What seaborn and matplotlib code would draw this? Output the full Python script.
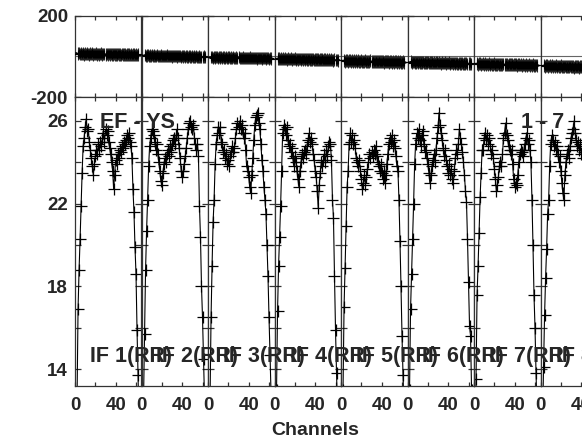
import pandas as pd
import matplotlib
matplotlib.use("Agg")
import matplotlib.pyplot as plt
import seaborn as sns

# labels
if_labels = ["IF 1(RR)", "IF 2(RR)", "IF 3(RR)", "IF 4(RR)",
             "IF 5(RR)", "IF 6(RR)", "IF 7(RR)", "IF 8(RR)"]
baseline_name = "EF - YS"
baseline_nums = "1 - 7"
x_title = "Channels"

# amplitude per channel (channel 1..64)
amp_if1 = [9.0, 12.5, 16.9, 18.8, 20.3, 21.9, 23.5, 24.8,
           25.2, 25.7, 26.1, 25.5, 25.6, 25.0, 24.6, 24.2,
           23.8, 23.4, 23.9, 24.3, 24.6, 24.4, 24.9, 24.6,
           25.0, 24.8, 25.2, 25.4, 25.0, 25.6, 25.3, 25.5,
           25.0, 24.7, 24.4, 24.0, 23.6, 22.7, 23.4, 24.1,
           23.9, 24.4, 24.2, 24.6, 24.5, 24.8, 24.7, 25.0,
           24.9, 25.1, 25.3, 25.2, 25.4, 25.0, 24.8, 24.2,
           22.7, 21.6, 19.9, 18.6, 15.9, 13.7, 11.0, 9.0]
amp_if2 = [10.0, 12.5, 15.7, 18.8, 20.7, 22.2, 23.8, 24.8,
           25.2, 25.6, 25.5, 25.3, 25.0, 24.6, 24.9, 24.4,
           24.0, 23.6, 23.1, 22.9, 23.5, 23.9, 24.2, 24.0,
           24.4, 24.6, 24.3, 24.8, 24.5, 24.9, 25.1, 25.2,
           24.9, 25.3, 25.6, 25.2, 24.7, 24.2, 23.6, 23.3,
           23.6, 23.9, 24.3, 24.7, 25.2, 25.6, 25.9, 26.0,
           25.7, 25.6, 25.8, 25.2, 24.9, 24.6, 24.9, 24.3,
           21.9, 20.4, 18.0, 16.5, 14.5, 12.5, 10.5, 9.0]
amp_if3 = [9.5, 12.5, 16.5, 19.0, 21.1, 22.2, 23.9, 24.9,
           25.3, 25.7, 25.4, 25.7, 25.0, 24.9, 24.5, 24.6,
           24.2, 24.4, 23.9, 24.1, 23.8, 24.3, 24.5, 24.8,
           24.5, 24.7, 25.2, 25.6, 25.9, 25.7, 26.0, 25.6,
           25.8, 25.4, 25.2, 25.4, 24.6, 23.8, 23.6, 23.3,
           22.8, 22.5, 23.4, 24.2, 25.1, 25.8, 26.2, 26.3,
           26.4, 25.9, 25.6, 24.9, 24.1, 23.6, 22.8, 22.2,
           21.5, 20.0, 18.5, 16.5, 14.7, 12.8, 11.0, 9.0]
amp_if4 = [9.5, 13.0, 16.8, 19.0, 20.4, 21.9, 23.6, 25.4,
           25.8, 25.6, 25.3, 25.7, 25.1, 24.8, 24.9, 24.5,
           24.7, 24.2, 23.8, 24.3, 24.0, 23.6, 23.2, 22.8,
           23.6, 24.0, 24.4, 24.2, 24.5, 24.6, 24.4, 24.8,
           25.1, 25.4, 25.0, 25.2, 24.9, 24.4, 24.1, 23.6,
           23.3, 22.6, 21.8, 22.9, 23.5, 24.0, 23.8, 24.1,
           24.4, 24.0, 24.6, 24.3, 24.8, 25.0, 24.9, 24.1,
           22.2, 21.3, 18.5, 15.9, 13.8, 12.0, 10.5, 9.0]
amp_if5 = [9.5, 13.0, 17.0, 18.9, 20.9, 22.8, 23.6, 24.9,
           25.4, 25.0, 25.3, 24.9, 25.1, 24.7, 24.2, 24.0,
           23.8, 24.1, 23.6, 23.2, 22.7, 23.0, 23.4, 22.9,
           23.3, 23.7, 24.0, 24.4, 24.2, 24.5, 24.3, 24.6,
           24.4, 24.8, 24.3, 24.0, 23.8, 23.6, 23.9, 23.5,
           23.2, 23.6, 23.0, 23.4, 23.9, 24.4, 24.9, 25.2,
           25.0, 25.3, 24.8, 25.1, 24.7, 24.3, 23.8, 23.6,
           22.2, 20.2, 18.0, 15.6, 13.7, 12.0, 10.5, 9.0]
amp_if6 = [9.5, 13.0, 16.9, 18.6, 20.3, 22.0, 23.9, 24.9,
           25.4, 25.2, 25.6, 25.1, 24.8, 25.3, 25.5, 24.9,
           24.5, 24.6, 24.2, 23.9, 23.5, 23.0, 23.4, 23.8,
           24.1, 24.4, 24.0, 24.6, 25.2, 25.7, 26.4, 25.8,
           25.4, 25.1, 24.7, 24.3, 24.6, 24.1, 23.8, 23.5,
           23.9, 23.4, 23.7, 23.2, 23.0, 23.6, 24.2, 24.6,
           24.4, 24.9, 25.6, 25.2, 24.9, 24.5, 24.0, 23.4,
           22.6, 22.1, 20.3, 18.2, 16.1, 15.6, 13.0, 10.0]
amp_if7 = [9.5, 13.5, 17.6, 19.0, 20.6, 22.3, 23.5, 24.6,
           24.6, 25.2, 25.4, 25.1, 25.3, 24.9, 25.2, 24.8,
           24.4, 24.6, 24.2, 23.7, 23.2, 22.6, 22.9, 23.3,
           23.8, 24.0, 23.8, 24.4, 25.2, 25.4, 25.9, 25.3,
           25.1, 24.8, 24.6, 24.4, 24.6, 23.9, 23.2, 22.8,
           23.0, 22.9, 23.4, 24.0, 24.4, 24.6, 24.5, 24.3,
           24.6, 24.9, 25.2, 25.4, 24.9, 25.1, 24.6, 24.0,
           22.2, 20.0, 17.6, 16.0, 13.8, 12.0, 10.5, 9.0]
# IF 8 is cut by the right edge, only the visible channels
amp_if8 = [9.5, 11.5, 14.1, 16.6, 18.4, 19.8, 21.5, 22.2,
           23.8, 24.9, 25.3, 25.1, 24.8, 25.0, 24.6, 24.8,
           24.4, 24.0, 24.3, 23.6, 23.0, 22.5, 22.2, 23.4,
           24.0, 24.4, 24.6, 24.2, 24.8, 25.2, 25.4, 25.6,
           26.0, 25.4, 25.1, 24.8, 25.0, 24.6, 24.9, 24.4,
           24.7, 24.2, 24.5]

# phase in degrees per channel
phase_if1 = [18, 15, 14, 17, 12, 15, 13, 16,
             11, 14, 12, 15, 13, 10, 14, 12,
             15, 11, 13, 12, 14, 10, 13, 11,
             12, 14, 10, 12, 13, 9, 12, 11,
             13, 10, 12, 9, 11, 13, 10, 11,
             9, 12, 10, 11, 8, 12, 10, 9,
             11, 8, 10, 9, 11, 7, 10, 8,
             9, 11, 7, 9, 8, 10, 6, 9]
phase_if2 = [6, 4, 7, 3, 5, 6, 2, 5,
             4, 6, 3, 5, 2, 4, 6, 3,
             4, 2, 5, 3, 1, 4, 2, 3,
             5, 1, 3, 2, 4, 0, 3, 2,
             1, 3, 0, 2, 1, 3, -1, 2,
             0, 1, -1, 2, 0, -2, 1, 0,
             -1, 1, -2, 0, -1, 1, -3, -1,
             0, -2, -1, -3, 0, -2, -1, -3]
phase_if3 = [-3, -5, -2, -4, -6, -3, -5, -4,
             -2, -6, -4, -5, -3, -7, -4, -5,
             -6, -4, -7, -5, -3, -6, -5, -7,
             -4, -6, -8, -5, -6, -4, -7, -6,
             -8, -5, -7, -6, -9, -6, -7, -8,
             -5, -8, -7, -9, -6, -8, -7, -10,
             -8, -6, -9, -8, -10, -7, -9, -8,
             -10, -8, -9, -11, -8, -10, -9, -11]
phase_if4 = [-10, -12, -9, -11, -13, -10, -12, -11,
             -13, -10, -12, -14, -11, -13, -12, -10,
             -14, -12, -13, -11, -15, -12, -14, -13,
             -12, -15, -13, -14, -12, -16, -13, -15,
             -14, -13, -16, -14, -15, -13, -17, -14,
             -15, -16, -14, -17, -15, -16, -14, -17,
             -16, -15, -18, -16, -17, -15, -18, -16,
             -17, -19, -16, -18, -17, -19, -16, -18]
phase_if5 = [-20, -22, -19, -23, -21, -20, -24, -22,
             -21, -23, -20, -24, -22, -23, -21, -25,
             -22, -24, -23, -21, -25, -23, -24, -22,
             -26, -23, -25, -24, -22, -26, -24, -25,
             -27, -24, -26, -25, -23, -27, -25, -26,
             -24, -28, -26, -25, -27, -26, -28, -25,
             -27, -29, -26, -28, -27, -25, -29, -27,
             -28, -26, -30, -28, -27, -29, -28, -30]
phase_if6 = [-27, -29, -26, -30, -28, -27, -31, -29,
             -28, -30, -27, -31, -29, -30, -28, -32,
             -29, -31, -30, -28, -32, -30, -31, -29,
             -33, -30, -32, -31, -29, -33, -31, -32,
             -34, -31, -33, -32, -30, -34, -32, -33,
             -31, -35, -33, -32, -34, -33, -35, -32,
             -34, -36, -33, -35, -34, -32, -36, -34,
             -35, -33, -37, -35, -34, -36, -35, -37]
phase_if7 = [-35, -37, -34, -38, -36, -35, -39, -37,
             -36, -38, -35, -39, -37, -38, -36, -40,
             -37, -39, -38, -36, -40, -38, -39, -37,
             -41, -38, -40, -39, -37, -41, -39, -40,
             -42, -39, -41, -40, -38, -42, -40, -41,
             -39, -43, -41, -40, -42, -41, -43, -40,
             -42, -44, -41, -43, -42, -40, -44, -42,
             -43, -41, -45, -43, -42, -44, -43, -45]
phase_if8 = [-45, -47, -44, -48, -46, -45, -49, -47,
             -46, -48, -45, -49, -47, -48, -46, -50,
             -47, -49, -48, -46, -50, -48, -49, -47,
             -51, -48, -50, -49, -47, -51, -49, -50,
             -52, -49, -51, -50, -48, -52, -50, -51,
             -49, -53, -51]
phase_err = [31, 30, 30, 31, 32, 31, 32, 32]

amp_ticks, amp_minor = [14, 18, 22, 26], [16, 20, 24]
phase_ticks = [-200, 200]
chan_ticks, chan_minor = [0, 40], [20, 60]

amps = [amp_if1, amp_if2, amp_if3, amp_if4, amp_if5, amp_if6, amp_if7, amp_if8]
phases = [phase_if1, phase_if2, phase_if3, phase_if4,
          phase_if5, phase_if6, phase_if7, phase_if8]

rows = []
for i, (a, p) in enumerate(zip(amps, phases)):
    for ch, (av, pv) in enumerate(zip(a, p), start=1):
        rows.append((i + 1, ch, av, pv))
df = pd.DataFrame(rows, columns=['if', 'channel', 'amp', 'phase'])

sns.set_style('ticks')
plt.rcParams['font.family'] = ['Liberation Sans', 'DejaVu Sans']
plt.rcParams['font.weight'] = 'bold'
plt.rcParams['axes.unicode_minus'] = False

W, H = 582, 440
fig = plt.figure(figsize=(W / 100, H / 100), dpi=100)
x0, pw = 75, 66.5
fs_tick, fs_lab = 13.5, 15.5

for i in range(len(amps)):
    left = (x0 + i * pw) / W
    axp = fig.add_axes([left, 1 - 97 / H, pw / W, 81 / H])
    axa = fig.add_axes([left, 1 - 386 / H, pw / W, 289 / H])
    sub = df[df['if'] == i + 1]
    inner = sub[(sub['channel'] >= 3) & (sub['channel'] <= 62)]

    # phase row
    axp.axhline(0, color='0.4', lw=0.8, zorder=1)
    axp.errorbar(inner['channel'], inner['phase'], yerr=phase_err[i], fmt='none',
                 ecolor='0.15', elinewidth=0.8, zorder=2)
    sns.scatterplot(data=inner, x='channel', y='phase', ax=axp, marker='+',
                    s=30, color='black', linewidth=0.8, zorder=3)
    sns.lineplot(data=sub, x='channel', y='phase', ax=axp, color='black', lw=1.2,
                 estimator=None, sort=False, zorder=4)
    axp.set_ylim(-200, 200)
    axp.set_yticks(phase_ticks)

    # amplitude row
    sns.lineplot(data=sub, x='channel', y='amp', ax=axa, color='black', lw=0.8,
                 marker='+', markersize=8, markeredgewidth=0.9, markeredgecolor='black',
                 estimator=None, sort=False)
    axa.set_ylim(13.18, 27.16)
    axa.set_yticks(amp_ticks)
    axa.set_yticks(amp_minor, minor=True)

    for ax in (axp, axa):
        ax.set_xlim(0, 65.4)
        ax.set_xticks(chan_ticks)
        ax.set_xticks(chan_minor, minor=True)
        ax.set_xlabel('')
        ax.set_ylabel('')
        ax.tick_params(axis='both', which='both', direction='in', top=True, right=True,
                       width=0.9, color='0.2', labelsize=fs_tick)
        ax.tick_params(axis='x', which='both', length=3, pad=8)
        ax.tick_params(axis='y', which='both', length=4, pad=5)
        for sp in ax.spines.values():
            sp.set_linewidth(0.9)
            sp.set_color('0.2')
        if i > 0:
            ax.tick_params(labelleft=False)
        for lbl in ax.get_xticklabels() + ax.get_yticklabels():
            lbl.set_fontweight('bold')
    axp.tick_params(labelbottom=False)

    # IF labels overlap each other in the original, kept that way
    fig.text((x0 + 15 + i * pw) / W, 1 - 356 / H, if_labels[i], fontsize=fs_lab,
             fontweight='bold', ha='left', va='center')

fig.text(100 / W, 1 - 123 / H, baseline_name, fontsize=fs_lab, fontweight='bold',
         ha='left', va='center')
fig.text(521 / W, 1 - 123 / H, baseline_nums, fontsize=fs_lab, fontweight='bold',
         ha='left', va='center')
fig.text(315 / W, 1 - 430 / H, x_title, fontsize=14, fontweight='bold',
         ha='center', va='center')

fig.savefig('out.png', dpi=100)
